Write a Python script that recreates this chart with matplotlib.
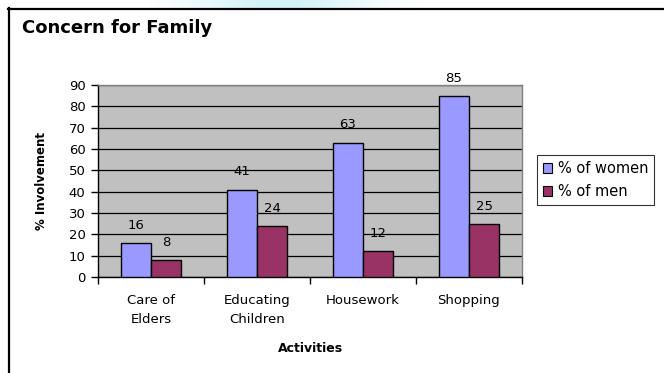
import matplotlib.pyplot as plt
import numpy as np
from matplotlib.lines import Line2D
from matplotlib.colors import LinearSegmentedColormap

plt.rcParams["font.family"] = ["DejaVu Sans"]

categories = ["Care of\nElders", "Educating\nChildren", "Housework", "Shopping"]
women = [16, 41, 63, 85]
men = [8, 24, 12, 25]
series_names = ["% of women", "% of men"]

W, H = 664, 373
fig = plt.figure(figsize=(W / 100, H / 100), dpi=100)
fig.patch.set_facecolor("white")

# faint watermark band along the top edge
band = fig.add_axes([150 / W, 1 - 9 / H, 290 / W, 9 / H])
grad = np.linspace(0, 1, 200)
grad = np.exp(-((grad - 0.45) / 0.3) ** 2)
band.imshow(grad[None, :], aspect="auto",
            cmap=LinearSegmentedColormap.from_list("wm", ["#ffffff", "#d2f2f8"]))
band.axis("off")

# chart frame (left and top edges)
fig.add_artist(Line2D([8.5 / W, 8.5 / W], [0, 1 - 8 / H], color="black", lw=1.6))
fig.add_artist(Line2D([8 / W, 1], [1 - 8.5 / H, 1 - 8.5 / H], color="black", lw=1.6))

ax = fig.add_axes([98 / W, 1 - 277 / H, 424 / W, 192 / H])
ax.set_facecolor("#c0c0c0")

x = np.arange(len(categories))
bw = 1 / 3.5
b1 = ax.bar(x - bw / 2, women, bw, color="#9999ff", edgecolor="black", lw=1, zorder=3)
b2 = ax.bar(x + bw / 2, men, bw, color="#993366", edgecolor="black", lw=1, zorder=3)

for bars, vals in [(b1, women), (b2, men)]:
    for r, v in zip(bars, vals):
        ax.annotate(str(v), (r.get_x() + r.get_width() / 2, v), xytext=(0, 8),
                    textcoords="offset points", ha="center", va="bottom",
                    fontsize=9.5, zorder=4)

ax.set_xlim(-0.5, len(categories) - 0.5)
ax.set_ylim(0, 90)
ax.set_yticks(range(0, 91, 10))
ax.yaxis.grid(True, color="black", lw=0.9, zorder=1)
ax.set_axisbelow(True)

ax.set_xticks(x)
ax.set_xticklabels(categories, fontsize=9.5, linespacing=1.6)
ax.set_xticks(np.arange(-0.5, len(categories)), minor=True)
ax.tick_params(axis="x", which="major", length=0, pad=12)
ax.tick_params(axis="x", which="minor", length=5, width=1, color="black")
ax.tick_params(axis="y", length=5, width=1, labelsize=9.5, pad=4)

for s in ["top", "right"]:
    ax.spines[s].set_color("#808080")
    ax.spines[s].set_linewidth(1)
for s in ["left", "bottom"]:
    ax.spines[s].set_color("black")
    ax.spines[s].set_linewidth(1)

ax.set_xlabel("Activities", fontsize=9, fontweight="bold", labelpad=12)
ax.set_ylabel("% Involvement", fontsize=8.5, fontweight="bold", labelpad=15)

fig.text(22 / W, 1 - 28 / H, "Concern for Family", fontsize=13, fontweight="bold",
         ha="left", va="center")

leg = fig.legend([b1, b2], series_names, loc="upper left",
                 bbox_to_anchor=(537 / W, 1 - 155 / H), fontsize=10.5,
                 frameon=True, fancybox=False, borderpad=0.4, handlelength=0.65,
                 handleheight=0.65, handletextpad=0.4, labelspacing=0.55,
                 borderaxespad=0)
leg.get_frame().set_edgecolor("black")
leg.get_frame().set_linewidth(0.8)
for p in leg.get_patches():
    p.set_linewidth(0.8)

fig.savefig("out.png", dpi=100)
